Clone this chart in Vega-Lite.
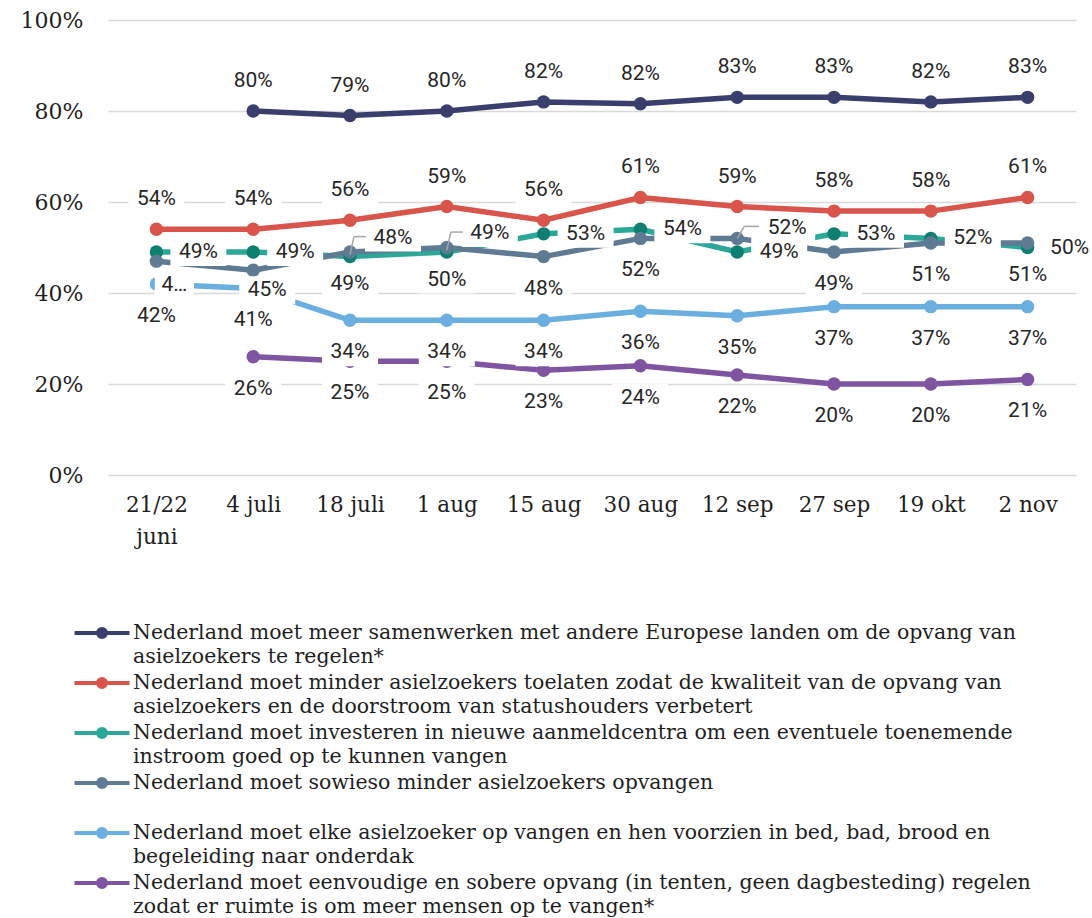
{
  "$schema": "https://vega.github.io/schema/vega-lite/v6.json",
  "width": 968,
  "height": 455,
  "autosize": "none",
  "padding": {"left": 108, "top": 20, "right": 16, "bottom": 443},
  "background": "white",
  "config": {"view": {"stroke": null}},
  "data": {"values": [
    {"date": "4 juli", "id": "A", "series": "Nederland moet meer samenwerken met andere Europese landen om de opvang van asielzoekers te regelen*", "value": 0.80},
    {"date": "18 juli", "id": "A", "series": "Nederland moet meer samenwerken met andere Europese landen om de opvang van asielzoekers te regelen*", "value": 0.79},
    {"date": "1 aug", "id": "A", "series": "Nederland moet meer samenwerken met andere Europese landen om de opvang van asielzoekers te regelen*", "value": 0.80},
    {"date": "15 aug", "id": "A", "series": "Nederland moet meer samenwerken met andere Europese landen om de opvang van asielzoekers te regelen*", "value": 0.82},
    {"date": "30 aug", "id": "A", "series": "Nederland moet meer samenwerken met andere Europese landen om de opvang van asielzoekers te regelen*", "value": 0.816},
    {"date": "12 sep", "id": "A", "series": "Nederland moet meer samenwerken met andere Europese landen om de opvang van asielzoekers te regelen*", "value": 0.83},
    {"date": "27 sep", "id": "A", "series": "Nederland moet meer samenwerken met andere Europese landen om de opvang van asielzoekers te regelen*", "value": 0.83},
    {"date": "19 okt", "id": "A", "series": "Nederland moet meer samenwerken met andere Europese landen om de opvang van asielzoekers te regelen*", "value": 0.82},
    {"date": "2 nov", "id": "A", "series": "Nederland moet meer samenwerken met andere Europese landen om de opvang van asielzoekers te regelen*", "value": 0.83},

    {"date": "21/22 juni", "id": "B", "series": "Nederland moet minder asielzoekers toelaten zodat de kwaliteit van de opvang van asielzoekers en de doorstroom van statushouders verbetert", "value": 0.54},
    {"date": "4 juli", "id": "B", "series": "Nederland moet minder asielzoekers toelaten zodat de kwaliteit van de opvang van asielzoekers en de doorstroom van statushouders verbetert", "value": 0.54},
    {"date": "18 juli", "id": "B", "series": "Nederland moet minder asielzoekers toelaten zodat de kwaliteit van de opvang van asielzoekers en de doorstroom van statushouders verbetert", "value": 0.56},
    {"date": "1 aug", "id": "B", "series": "Nederland moet minder asielzoekers toelaten zodat de kwaliteit van de opvang van asielzoekers en de doorstroom van statushouders verbetert", "value": 0.59},
    {"date": "15 aug", "id": "B", "series": "Nederland moet minder asielzoekers toelaten zodat de kwaliteit van de opvang van asielzoekers en de doorstroom van statushouders verbetert", "value": 0.56},
    {"date": "30 aug", "id": "B", "series": "Nederland moet minder asielzoekers toelaten zodat de kwaliteit van de opvang van asielzoekers en de doorstroom van statushouders verbetert", "value": 0.61},
    {"date": "12 sep", "id": "B", "series": "Nederland moet minder asielzoekers toelaten zodat de kwaliteit van de opvang van asielzoekers en de doorstroom van statushouders verbetert", "value": 0.59},
    {"date": "27 sep", "id": "B", "series": "Nederland moet minder asielzoekers toelaten zodat de kwaliteit van de opvang van asielzoekers en de doorstroom van statushouders verbetert", "value": 0.58},
    {"date": "19 okt", "id": "B", "series": "Nederland moet minder asielzoekers toelaten zodat de kwaliteit van de opvang van asielzoekers en de doorstroom van statushouders verbetert", "value": 0.58},
    {"date": "2 nov", "id": "B", "series": "Nederland moet minder asielzoekers toelaten zodat de kwaliteit van de opvang van asielzoekers en de doorstroom van statushouders verbetert", "value": 0.61},

    {"date": "21/22 juni", "id": "C", "series": "Nederland moet investeren in nieuwe aanmeldcentra om een eventuele toenemende instroom goed op te kunnen vangen", "value": 0.49},
    {"date": "4 juli", "id": "C", "series": "Nederland moet investeren in nieuwe aanmeldcentra om een eventuele toenemende instroom goed op te kunnen vangen", "value": 0.49},
    {"date": "18 juli", "id": "C", "series": "Nederland moet investeren in nieuwe aanmeldcentra om een eventuele toenemende instroom goed op te kunnen vangen", "value": 0.48},
    {"date": "1 aug", "id": "C", "series": "Nederland moet investeren in nieuwe aanmeldcentra om een eventuele toenemende instroom goed op te kunnen vangen", "value": 0.49},
    {"date": "15 aug", "id": "C", "series": "Nederland moet investeren in nieuwe aanmeldcentra om een eventuele toenemende instroom goed op te kunnen vangen", "value": 0.53},
    {"date": "30 aug", "id": "C", "series": "Nederland moet investeren in nieuwe aanmeldcentra om een eventuele toenemende instroom goed op te kunnen vangen", "value": 0.54},
    {"date": "12 sep", "id": "C", "series": "Nederland moet investeren in nieuwe aanmeldcentra om een eventuele toenemende instroom goed op te kunnen vangen", "value": 0.49},
    {"date": "27 sep", "id": "C", "series": "Nederland moet investeren in nieuwe aanmeldcentra om een eventuele toenemende instroom goed op te kunnen vangen", "value": 0.53},
    {"date": "19 okt", "id": "C", "series": "Nederland moet investeren in nieuwe aanmeldcentra om een eventuele toenemende instroom goed op te kunnen vangen", "value": 0.52},
    {"date": "2 nov", "id": "C", "series": "Nederland moet investeren in nieuwe aanmeldcentra om een eventuele toenemende instroom goed op te kunnen vangen", "value": 0.50},

    {"date": "21/22 juni", "id": "D", "series": "Nederland moet sowieso minder asielzoekers opvangen", "value": 0.47},
    {"date": "4 juli", "id": "D", "series": "Nederland moet sowieso minder asielzoekers opvangen", "value": 0.45},
    {"date": "18 juli", "id": "D", "series": "Nederland moet sowieso minder asielzoekers opvangen", "value": 0.49},
    {"date": "1 aug", "id": "D", "series": "Nederland moet sowieso minder asielzoekers opvangen", "value": 0.50},
    {"date": "15 aug", "id": "D", "series": "Nederland moet sowieso minder asielzoekers opvangen", "value": 0.48},
    {"date": "30 aug", "id": "D", "series": "Nederland moet sowieso minder asielzoekers opvangen", "value": 0.52},
    {"date": "12 sep", "id": "D", "series": "Nederland moet sowieso minder asielzoekers opvangen", "value": 0.52},
    {"date": "27 sep", "id": "D", "series": "Nederland moet sowieso minder asielzoekers opvangen", "value": 0.49},
    {"date": "19 okt", "id": "D", "series": "Nederland moet sowieso minder asielzoekers opvangen", "value": 0.51},
    {"date": "2 nov", "id": "D", "series": "Nederland moet sowieso minder asielzoekers opvangen", "value": 0.51},

    {"date": "21/22 juni", "id": "E", "series": "Nederland moet elke asielzoeker op vangen en hen voorzien in bed, bad, brood en begeleiding naar onderdak", "value": 0.42},
    {"date": "4 juli", "id": "E", "series": "Nederland moet elke asielzoeker op vangen en hen voorzien in bed, bad, brood en begeleiding naar onderdak", "value": 0.41},
    {"date": "18 juli", "id": "E", "series": "Nederland moet elke asielzoeker op vangen en hen voorzien in bed, bad, brood en begeleiding naar onderdak", "value": 0.34},
    {"date": "1 aug", "id": "E", "series": "Nederland moet elke asielzoeker op vangen en hen voorzien in bed, bad, brood en begeleiding naar onderdak", "value": 0.34},
    {"date": "15 aug", "id": "E", "series": "Nederland moet elke asielzoeker op vangen en hen voorzien in bed, bad, brood en begeleiding naar onderdak", "value": 0.34},
    {"date": "30 aug", "id": "E", "series": "Nederland moet elke asielzoeker op vangen en hen voorzien in bed, bad, brood en begeleiding naar onderdak", "value": 0.36},
    {"date": "12 sep", "id": "E", "series": "Nederland moet elke asielzoeker op vangen en hen voorzien in bed, bad, brood en begeleiding naar onderdak", "value": 0.35},
    {"date": "27 sep", "id": "E", "series": "Nederland moet elke asielzoeker op vangen en hen voorzien in bed, bad, brood en begeleiding naar onderdak", "value": 0.37},
    {"date": "19 okt", "id": "E", "series": "Nederland moet elke asielzoeker op vangen en hen voorzien in bed, bad, brood en begeleiding naar onderdak", "value": 0.37},
    {"date": "2 nov", "id": "E", "series": "Nederland moet elke asielzoeker op vangen en hen voorzien in bed, bad, brood en begeleiding naar onderdak", "value": 0.37},

    {"date": "4 juli", "id": "F", "series": "Nederland moet eenvoudige en sobere opvang (in tenten, geen dagbesteding) regelen zodat er ruimte is om meer mensen op te vangen*", "value": 0.26},
    {"date": "18 juli", "id": "F", "series": "Nederland moet eenvoudige en sobere opvang (in tenten, geen dagbesteding) regelen zodat er ruimte is om meer mensen op te vangen*", "value": 0.25},
    {"date": "1 aug", "id": "F", "series": "Nederland moet eenvoudige en sobere opvang (in tenten, geen dagbesteding) regelen zodat er ruimte is om meer mensen op te vangen*", "value": 0.25},
    {"date": "15 aug", "id": "F", "series": "Nederland moet eenvoudige en sobere opvang (in tenten, geen dagbesteding) regelen zodat er ruimte is om meer mensen op te vangen*", "value": 0.23},
    {"date": "30 aug", "id": "F", "series": "Nederland moet eenvoudige en sobere opvang (in tenten, geen dagbesteding) regelen zodat er ruimte is om meer mensen op te vangen*", "value": 0.24},
    {"date": "12 sep", "id": "F", "series": "Nederland moet eenvoudige en sobere opvang (in tenten, geen dagbesteding) regelen zodat er ruimte is om meer mensen op te vangen*", "value": 0.22},
    {"date": "27 sep", "id": "F", "series": "Nederland moet eenvoudige en sobere opvang (in tenten, geen dagbesteding) regelen zodat er ruimte is om meer mensen op te vangen*", "value": 0.20},
    {"date": "19 okt", "id": "F", "series": "Nederland moet eenvoudige en sobere opvang (in tenten, geen dagbesteding) regelen zodat er ruimte is om meer mensen op te vangen*", "value": 0.20},
    {"date": "2 nov", "id": "F", "series": "Nederland moet eenvoudige en sobere opvang (in tenten, geen dagbesteding) regelen zodat er ruimte is om meer mensen op te vangen*", "value": 0.21}
  ]},
  "encoding": {
    "x": {
      "field": "date", "type": "ordinal",
      "sort": ["21/22 juni", "4 juli", "18 juli", "1 aug", "15 aug", "30 aug", "12 sep", "27 sep", "19 okt", "2 nov"],
      "scale": {"type": "point", "padding": 0.5},
      "axis": {
        "title": null, "domain": false, "ticks": false, "grid": false, "labelAngle": 0,
        "labelFont": "DejaVu Serif", "labelFontSize": 21.5, "labelColor": "#1f1f1f",
        "labelPadding": 19, "labelLineHeight": 32, "labelBaseline": "top",
        "labelExpr": "datum.value == '21/22 juni' ? ['21/22', 'juni'] : datum.value"
      }
    },
    "y": {
      "field": "value", "type": "quantitative",
      "scale": {"domain": [0, 1], "nice": false},
      "axis": {
        "title": null, "domain": false, "ticks": false, "values": [0, 0.2, 0.4, 0.6, 0.8, 1],
        "format": ".0%", "gridColor": "#D9D9D9", "gridWidth": 1.5,
        "labelFont": "DejaVu Serif", "labelFontSize": 22, "labelColor": "#1f1f1f", "labelPadding": 25
      }
    }
  },
  "layer": [
    {
      "mark": {"type": "line", "strokeWidth": 5.5},
      "encoding": {
        "color": {
          "field": "series", "type": "nominal",
          "scale": {
            "domain": [
              "Nederland moet meer samenwerken met andere Europese landen om de opvang van asielzoekers te regelen*",
              "Nederland moet minder asielzoekers toelaten zodat de kwaliteit van de opvang van asielzoekers en de doorstroom van statushouders verbetert",
              "Nederland moet investeren in nieuwe aanmeldcentra om een eventuele toenemende instroom goed op te kunnen vangen",
              "Nederland moet sowieso minder asielzoekers opvangen",
              "Nederland moet elke asielzoeker op vangen en hen voorzien in bed, bad, brood en begeleiding naar onderdak",
              "Nederland moet eenvoudige en sobere opvang (in tenten, geen dagbesteding) regelen zodat er ruimte is om meer mensen op te vangen*"
            ],
            "range": ["#393E6D", "#D9544A", "#2CA899", "#5F7B93", "#6BAFE1", "#7F54A0"]
          },
          "legend": {
            "orient": "none", "legendX": -18, "legendY": 601, "direction": "vertical", "title": null,
            "padding": 0, "rowPadding": 3,
            "symbolType": "M-2.75,0H2.75M-0.4,0A0.4,0.4,0,1,1,0.4,0A0.4,0.4,0,1,1,-0.4,0Z",
            "symbolSize": 400, "symbolStrokeWidth": 4,
            "labelFont": "DejaVu Serif", "labelFontSize": 20.5, "labelColor": "#1f1f1f",
            "labelLimit": 1100, "labelOffset": 19,
            "labelExpr": "datum.label == 'Nederland moet meer samenwerken met andere Europese landen om de opvang van asielzoekers te regelen*' ? ['Nederland moet meer samenwerken met andere Europese landen om de opvang van', 'asielzoekers te regelen*'] : datum.label == 'Nederland moet minder asielzoekers toelaten zodat de kwaliteit van de opvang van asielzoekers en de doorstroom van statushouders verbetert' ? ['Nederland moet minder asielzoekers toelaten zodat de kwaliteit van de opvang van', 'asielzoekers en de doorstroom van statushouders verbetert'] : datum.label == 'Nederland moet investeren in nieuwe aanmeldcentra om een eventuele toenemende instroom goed op te kunnen vangen' ? ['Nederland moet investeren in nieuwe aanmeldcentra om een eventuele toenemende', 'instroom goed op te kunnen vangen'] : datum.label == 'Nederland moet sowieso minder asielzoekers opvangen' ? ['Nederland moet sowieso minder asielzoekers opvangen', ' '] : datum.label == 'Nederland moet elke asielzoeker op vangen en hen voorzien in bed, bad, brood en begeleiding naar onderdak' ? ['Nederland moet elke asielzoeker op vangen en hen voorzien in bed, bad, brood en', 'begeleiding naar onderdak'] : ['Nederland moet eenvoudige en sobere opvang (in tenten, geen dagbesteding) regelen', 'zodat er ruimte is om meer mensen op te vangen*']",
            "encode": {
              "symbols": {"update": {"fill": {"scale": "fill", "field": "value"}, "opacity": {"value": 1}}},
              "labels": {"update": {"lineHeight": {"value": 24.3}}}
            }
          }
        }
      }
    },
    {
      "mark": {"type": "point", "filled": true, "size": 180, "opacity": 1, "shape": "circle"},
      "encoding": {
        "fill": {
          "field": "series", "type": "nominal", "legend": null,
          "scale": {
            "domain": [
              "Nederland moet meer samenwerken met andere Europese landen om de opvang van asielzoekers te regelen*",
              "Nederland moet minder asielzoekers toelaten zodat de kwaliteit van de opvang van asielzoekers en de doorstroom van statushouders verbetert",
              "Nederland moet investeren in nieuwe aanmeldcentra om een eventuele toenemende instroom goed op te kunnen vangen",
              "Nederland moet sowieso minder asielzoekers opvangen",
              "Nederland moet elke asielzoeker op vangen en hen voorzien in bed, bad, brood en begeleiding naar onderdak",
              "Nederland moet eenvoudige en sobere opvang (in tenten, geen dagbesteding) regelen zodat er ruimte is om meer mensen op te vangen*"
            ],
            "range": ["#393E6D", "#D9544A", "#0E7F70", "#5F7B93", "#6BAFE1", "#7F54A0"]
          }
        }
      }
    },
    {
      "transform": [{"filter": "datum.id == 'A' || datum.id == 'B'"}],
      "mark": {"type": "point", "filled": true, "fill": "white", "strokeWidth": 0, "opacity": 1, "shape": "M-1,-0.5H1V0.5H-1Z", "size": 3136, "yOffset": -30}
    },
    {
      "transform": [{"filter": "datum.id == 'C' && datum.date != '18 juli' && datum.date != '1 aug'"}],
      "mark": {"type": "point", "filled": true, "fill": "white", "strokeWidth": 0, "opacity": 1, "shape": "M-1,-0.5H1V0.5H-1Z", "size": 3136, "xOffset": 42}
    },
    {
      "transform": [{"filter": "(datum.id == 'D' && datum.date != '21/22 juni' && datum.date != '4 juli' && datum.date != '12 sep') || datum.id == 'E' || datum.id == 'F'"}],
      "mark": {"type": "point", "filled": true, "fill": "white", "strokeWidth": 0, "opacity": 1, "shape": "M-1,-0.5H1V0.5H-1Z", "size": 3136, "yOffset": 32}
    },
    {
      "transform": [{"filter": "datum.id == 'C' && (datum.date == '18 juli' || datum.date == '1 aug')"}],
      "mark": {"type": "point", "filled": true, "fill": "white", "strokeWidth": 0, "opacity": 1, "shape": "M-1,-0.5H1V0.5H-1Z", "size": 3136, "xOffset": 43, "yOffset": -19}
    },
    {
      "transform": [{"filter": "datum.id == 'D' && datum.date == '12 sep'"}],
      "mark": {"type": "point", "filled": true, "fill": "white", "strokeWidth": 0, "opacity": 1, "shape": "M-1,-0.5H1V0.5H-1Z", "size": 3136, "xOffset": 50, "yOffset": -10}
    },
    {
      "transform": [{"filter": "datum.id == 'D' && datum.date == '4 juli'"}],
      "mark": {"type": "point", "filled": true, "fill": "white", "strokeWidth": 0, "opacity": 1, "shape": "M-1,-0.5H1V0.5H-1Z", "size": 3136, "xOffset": 14, "yOffset": 20}
    },
    {
      "transform": [{"filter": "datum.id == 'D' && datum.date == '21/22 juni'"}],
      "mark": {"type": "point", "filled": true, "fill": "white", "strokeWidth": 0, "opacity": 1, "shape": "M-0.7,-0.5H0.7V0.5H-0.7Z", "size": 3136, "xOffset": 18, "yOffset": 24}
    },
    {
      "transform": [{"filter": "datum.id == 'A' || datum.id == 'B'"}],
      "mark": {"type": "text", "font": "Roboto", "fontSize": 21, "color": "#262626", "baseline": "middle", "dy": -30},
      "encoding": {"text": {"field": "value", "format": ".0%"}}
    },
    {
      "transform": [{"filter": "datum.id == 'C' && datum.date != '18 juli' && datum.date != '1 aug'"}],
      "mark": {"type": "text", "font": "Roboto", "fontSize": 21, "color": "#262626", "baseline": "middle", "dx": 42},
      "encoding": {"text": {"field": "value", "format": ".0%"}}
    },
    {
      "transform": [{"filter": "(datum.id == 'D' && datum.date != '21/22 juni' && datum.date != '4 juli' && datum.date != '12 sep') || datum.id == 'E' || datum.id == 'F'"}],
      "mark": {"type": "text", "font": "Roboto", "fontSize": 21, "color": "#262626", "baseline": "middle", "dy": 32},
      "encoding": {"text": {"field": "value", "format": ".0%"}}
    },
    {
      "transform": [{"filter": "datum.id == 'C' && (datum.date == '18 juli' || datum.date == '1 aug')"}],
      "mark": {"type": "text", "font": "Roboto", "fontSize": 21, "color": "#262626", "baseline": "middle", "dx": 43, "dy": -19},
      "encoding": {"text": {"field": "value", "format": ".0%"}}
    },
    {
      "transform": [{"filter": "datum.id == 'D' && datum.date == '12 sep'"}],
      "mark": {"type": "text", "font": "Roboto", "fontSize": 21, "color": "#262626", "baseline": "middle", "dx": 50, "dy": -10},
      "encoding": {"text": {"field": "value", "format": ".0%"}}
    },
    {
      "transform": [{"filter": "datum.id == 'D' && datum.date == '4 juli'"}],
      "mark": {"type": "text", "font": "Roboto", "fontSize": 21, "color": "#262626", "baseline": "middle", "dx": 14, "dy": 20},
      "encoding": {"text": {"field": "value", "format": ".0%"}}
    },
    {
      "transform": [{"filter": "datum.id == 'D' && datum.date == '21/22 juni'"}],
      "mark": {"type": "text", "font": "Roboto", "fontSize": 21, "color": "#262626", "baseline": "middle", "dx": 18, "dy": 24, "limit": 30},
      "encoding": {"text": {"field": "value", "format": ".0%"}}
    },
    {
      "transform": [{"filter": "datum.id == 'C' && (datum.date == '18 juli' || datum.date == '1 aug')"}],
      "mark": {"type": "rule", "color": "#A6A6A6", "strokeWidth": 1.5, "xOffset": 0, "yOffset": -2, "x2Offset": 4, "y2Offset": -20},
      "encoding": {"x2": {"field": "date"}, "y2": {"field": "value"}}
    },
    {
      "transform": [{"filter": "datum.id == 'C' && (datum.date == '18 juli' || datum.date == '1 aug')"}],
      "mark": {"type": "rule", "color": "#A6A6A6", "strokeWidth": 1.5, "xOffset": 4, "yOffset": -20, "x2Offset": 16, "y2Offset": -20},
      "encoding": {"x2": {"field": "date"}, "y2": {"field": "value"}}
    },
    {
      "transform": [{"filter": "datum.id == 'D' && datum.date == '12 sep'"}],
      "mark": {"type": "rule", "color": "#A6A6A6", "strokeWidth": 1.5, "xOffset": 0, "yOffset": 0, "x2Offset": 7, "y2Offset": -12},
      "encoding": {"x2": {"field": "date"}, "y2": {"field": "value"}}
    },
    {
      "transform": [{"filter": "datum.id == 'D' && datum.date == '12 sep'"}],
      "mark": {"type": "rule", "color": "#A6A6A6", "strokeWidth": 1.5, "xOffset": 7, "yOffset": -12, "x2Offset": 22, "y2Offset": -12},
      "encoding": {"x2": {"field": "date"}, "y2": {"field": "value"}}
    }
  ]
}
